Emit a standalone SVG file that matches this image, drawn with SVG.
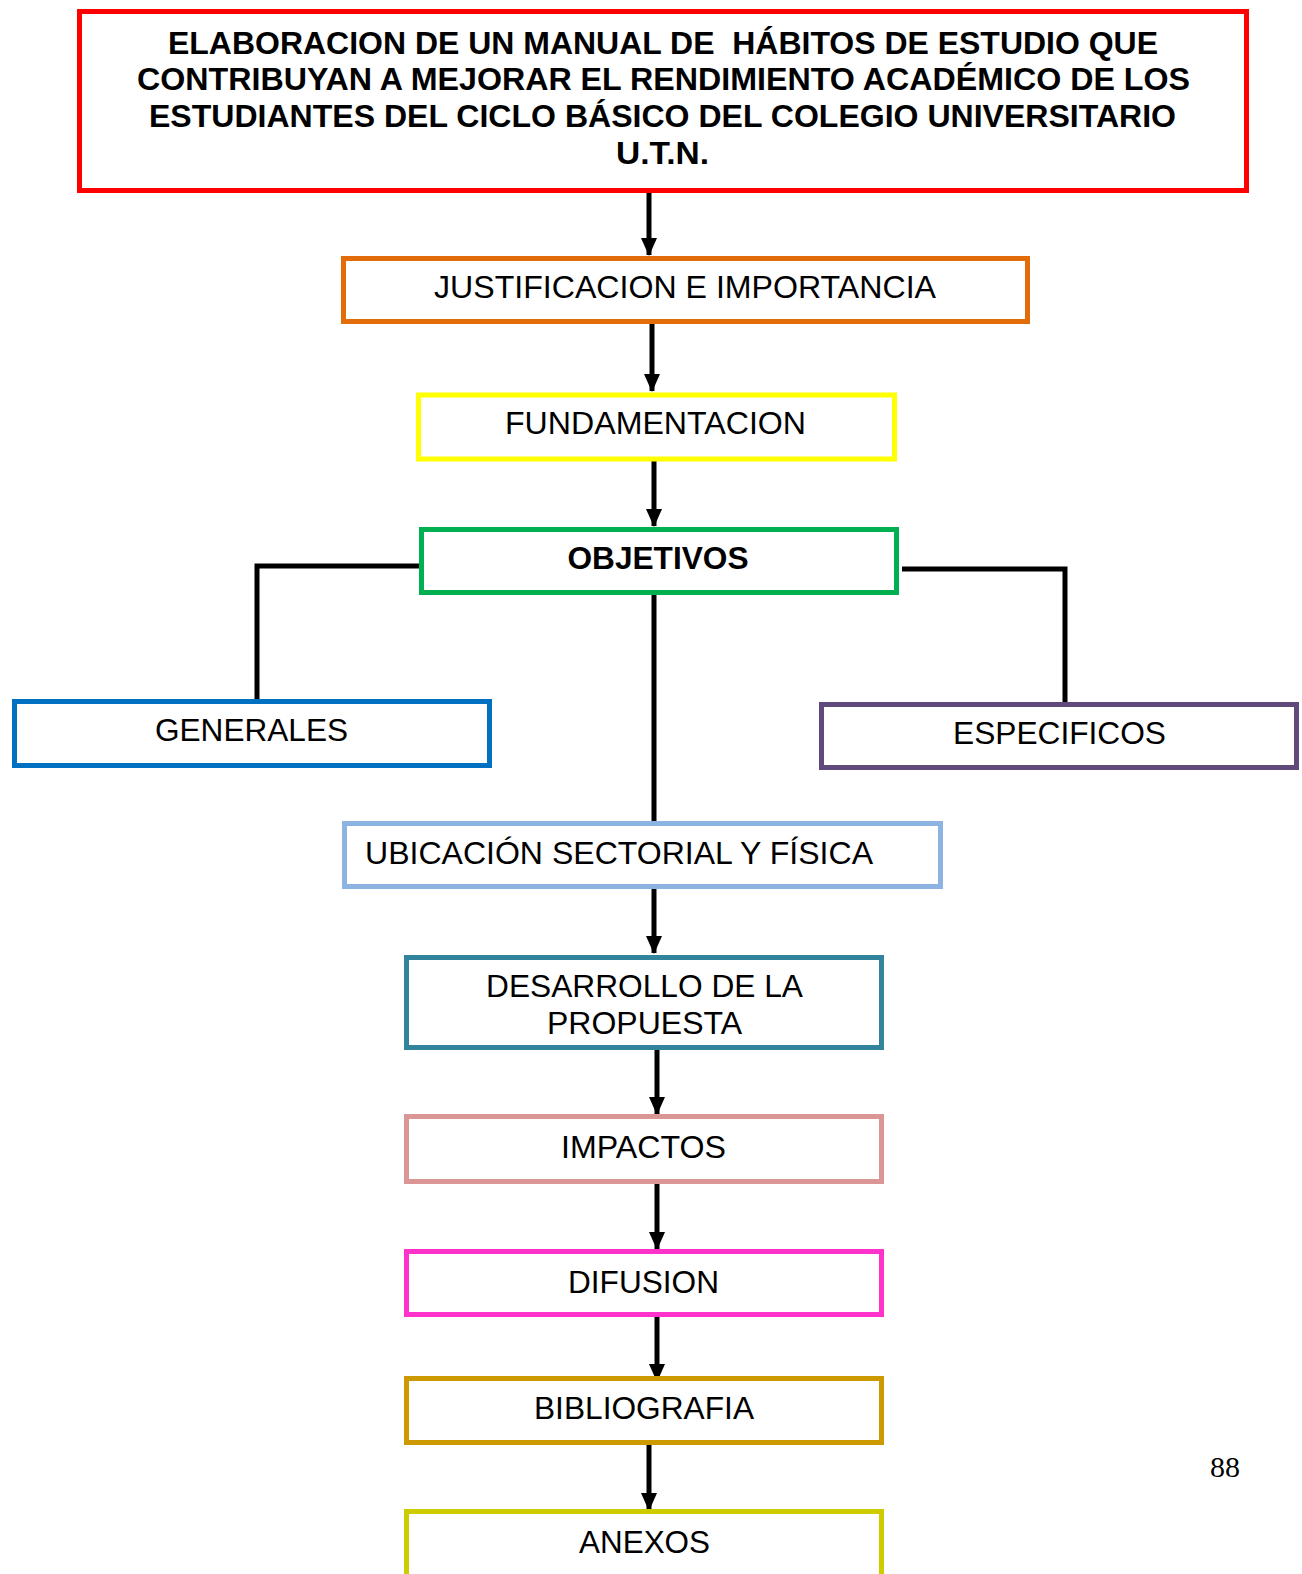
<svg xmlns="http://www.w3.org/2000/svg" width="1302" height="1574" viewBox="0 0 1302 1574">
<defs>
<style>
.box{fill:#fff;stroke-width:5}
.t{font-family:"Liberation Sans",Arial,sans-serif;font-size:32px;fill:#000;text-anchor:middle}
.b{font-weight:bold}
.ttl{font-family:"Liberation Sans",Arial,sans-serif;font-size:31px;font-weight:bold;fill:#000;text-anchor:middle;white-space:pre}
.c{fill:none;stroke:#000;stroke-width:5}
.pg{font-family:"Liberation Serif","Times New Roman",serif;font-size:30px;fill:#000;text-anchor:middle}
</style>
<marker id="arr" markerUnits="userSpaceOnUse" markerWidth="18" markerHeight="16" viewBox="0 0 18 16" refX="17" refY="8" orient="auto">
<path d="M0,0 L18,8 L0,16 Z" fill="#000"/>
</marker>
</defs>
<rect width="1302" height="1574" fill="#fff"/>

<g id="connectors">
<line class="c" x1="649" y1="190" x2="649" y2="255" marker-end="url(#arr)"/>
<line class="c" x1="652" y1="324" x2="652" y2="391" marker-end="url(#arr)"/>
<line class="c" x1="654" y1="461" x2="654" y2="526" marker-end="url(#arr)"/>
<polyline class="c" points="420,566 257,566 257,699"/>
<polyline class="c" points="902,569 1065,569 1065,702"/>
<line class="c" x1="654" y1="595" x2="654" y2="821"/>
<line class="c" x1="654" y1="889" x2="654" y2="953" marker-end="url(#arr)"/>
<line class="c" x1="657" y1="1050" x2="657" y2="1114" marker-end="url(#arr)"/>
<line class="c" x1="657" y1="1184" x2="657" y2="1249" marker-end="url(#arr)"/>
<line class="c" x1="657" y1="1317" x2="657" y2="1381" marker-end="url(#arr)"/>
<line class="c" x1="649" y1="1445" x2="649" y2="1510" marker-end="url(#arr)"/>
</g>

<g id="titulo">
<rect class="box" x="79.5" y="11.5" width="1167" height="179" stroke="#FF0000"/>
<text class="ttl" x="663" y="54" textLength="990" lengthAdjust="spacingAndGlyphs">ELABORACION DE UN MANUAL DE  HÁBITOS DE ESTUDIO QUE</text>
<text class="ttl" x="663.5" y="90" textLength="1053" lengthAdjust="spacingAndGlyphs">CONTRIBUYAN A MEJORAR EL RENDIMIENTO ACADÉMICO DE LOS</text>
<text class="ttl" x="662.5" y="127" textLength="1027" lengthAdjust="spacingAndGlyphs">ESTUDIANTES DEL CICLO BÁSICO DEL COLEGIO UNIVERSITARIO</text>
<text class="ttl" x="662.5" y="164" textLength="93" lengthAdjust="spacingAndGlyphs">U.T.N.</text>
</g>

<g id="justificacion">
<rect class="box" x="343.5" y="258.5" width="684" height="63" stroke="#E36C0A"/>
<text class="t" x="685" y="298" textLength="502" lengthAdjust="spacingAndGlyphs">JUSTIFICACION E IMPORTANCIA</text>
</g>

<g id="fundamentacion">
<rect class="box" x="418.5" y="395" width="476" height="64" stroke="#FFFF00"/>
<text class="t" x="655.5" y="434" textLength="301" lengthAdjust="spacingAndGlyphs">FUNDAMENTACION</text>
</g>

<g id="objetivos">
<rect class="box" x="421.5" y="529.5" width="475" height="63" stroke="#00B050"/>
<text class="t b" x="658" y="569" textLength="181" lengthAdjust="spacingAndGlyphs">OBJETIVOS</text>
</g>

<g id="generales">
<rect class="box" x="14.5" y="701.5" width="475" height="64" stroke="#0070C0"/>
<text class="t" x="251.5" y="741" textLength="193" lengthAdjust="spacingAndGlyphs">GENERALES</text>
</g>

<g id="especificos">
<rect class="box" x="821.5" y="704.5" width="475" height="63" stroke="#604A7B"/>
<text class="t" x="1059.5" y="744" textLength="213" lengthAdjust="spacingAndGlyphs">ESPECIFICOS</text>
</g>

<g id="ubicacion">
<rect class="box" x="344.5" y="823.5" width="596" height="63" stroke="#8DB3E2"/>
<text class="t" x="365" y="864" style="text-anchor:start" textLength="508" lengthAdjust="spacingAndGlyphs">UBICACIÓN SECTORIAL Y FÍSICA</text>
</g>

<g id="desarrollo">
<rect class="box" x="406.5" y="957.5" width="475" height="90" stroke="#31849B"/>
<text class="t" x="644.5" y="997" textLength="317" lengthAdjust="spacingAndGlyphs">DESARROLLO DE LA</text>
<text class="t" x="644.5" y="1034" textLength="195" lengthAdjust="spacingAndGlyphs">PROPUESTA</text>
</g>

<g id="impactos">
<rect class="box" x="406.5" y="1116.5" width="475" height="65" stroke="#D99694"/>
<text class="t" x="643.5" y="1158" textLength="165" lengthAdjust="spacingAndGlyphs">IMPACTOS</text>
</g>

<g id="difusion">
<rect class="box" x="406.5" y="1251.5" width="475" height="63" stroke="#FF33CC"/>
<text class="t" x="643.5" y="1293" textLength="151" lengthAdjust="spacingAndGlyphs">DIFUSION</text>
</g>

<g id="bibliografia">
<rect class="box" x="406.5" y="1378.5" width="475" height="64" stroke="#CC9900"/>
<text class="t" x="644" y="1419" textLength="220" lengthAdjust="spacingAndGlyphs">BIBLIOGRAFIA</text>
</g>

<g id="anexos">
<rect class="box" x="406.5" y="1511.5" width="475" height="90" stroke="#CCCC00"/>
<text class="t" x="644.5" y="1553" textLength="131" lengthAdjust="spacingAndGlyphs">ANEXOS</text>
</g>

<text class="pg" x="1225" y="1477">88</text>
</svg>
